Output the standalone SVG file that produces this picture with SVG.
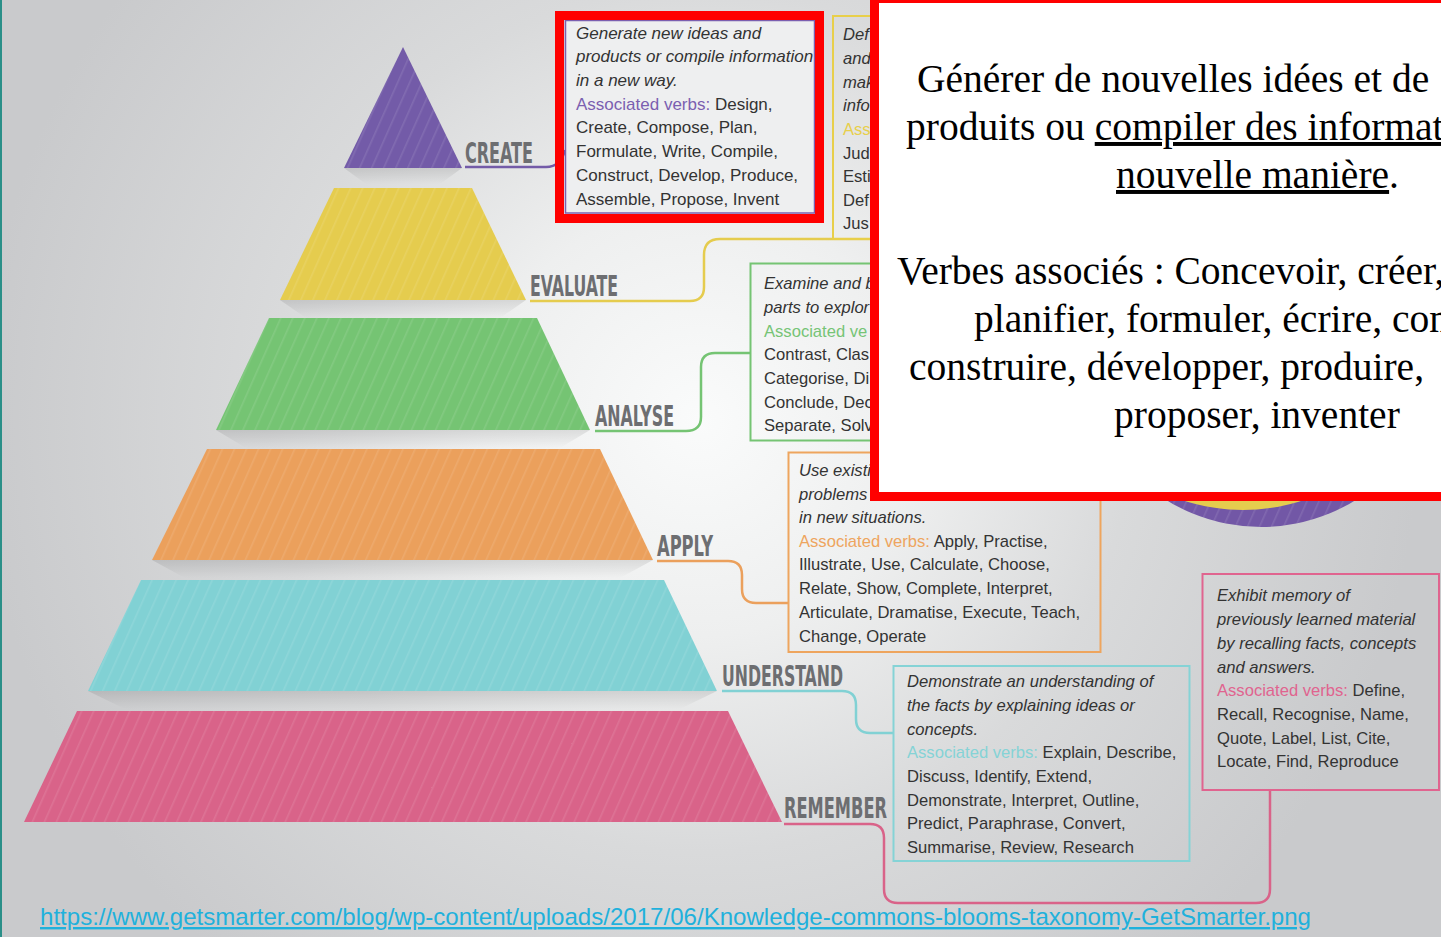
<svg xmlns="http://www.w3.org/2000/svg" width="1441" height="937" viewBox="0 0 1441 937">
<defs>
<radialGradient id="bg" gradientUnits="userSpaceOnUse" cx="700" cy="420" r="720">
<stop offset="0" stop-color="#fafbfb"/>
<stop offset="0.3" stop-color="#eeefef"/>
<stop offset="0.6" stop-color="#d9dadb"/>
<stop offset="1" stop-color="#c9cacc"/>
</radialGradient>
<linearGradient id="sh" x1="0" y1="0" x2="0" y2="1">
<stop offset="0" stop-color="#000" stop-opacity="0.10"/>
<stop offset="1" stop-color="#000" stop-opacity="0"/>
</linearGradient>
<pattern id="stripes" width="11" height="11" patternUnits="userSpaceOnUse" patternTransform="rotate(24)">
<rect width="1.6" height="11" fill="#ffffff" fill-opacity="0.10"/>
</pattern>
<style>
.lbl{font-family:"DejaVu Sans Condensed","DejaVu Sans",sans-serif;font-weight:bold;font-size:28px;fill:#6d6e71}
.t{font-family:"Liberation Sans",Arial,sans-serif;font-size:16.6px;fill:#333333}
.it{font-style:italic}
.box{fill:none;stroke-width:2}
.con{fill:none;stroke-width:2.5}
.fr{font-family:"Liberation Serif","Times New Roman",serif;font-size:39.5px;fill:#000}
.ul{text-decoration:underline}
</style>
</defs>

<rect width="1441" height="937" fill="url(#bg)"/>
<rect x="0" y="0" width="2" height="937" fill="#2a8f88"/>

<g id="pyramid-create">
<polygon points="344,168 462,168 440,184 366,184" fill="url(#sh)"/>
<polygon points="403,47 462,168 344,168" fill="#735ba8"/>
<polygon points="403,47 462,168 344,168" fill="url(#stripes)"/>
<text class="lbl" x="465" y="163" textLength="68" lengthAdjust="spacingAndGlyphs">CREATE</text>
</g>
<g id="pyramid-evaluate">
<polygon points="280,300 526,300 500,318 306,318" fill="url(#sh)"/>
<polygon points="334,188 472,188 526,300 280,300" fill="#e5cc4e"/>
<polygon points="334,188 472,188 526,300 280,300" fill="url(#stripes)"/>
<text class="lbl" x="530" y="296" textLength="88" lengthAdjust="spacingAndGlyphs">EVALUATE</text>
</g>
<g id="pyramid-analyse">
<polygon points="216,430 590,430 560,448 246,448" fill="url(#sh)"/>
<polygon points="269,318 537,318 590,430 216,430" fill="#75c473"/>
<polygon points="269,318 537,318 590,430 216,430" fill="url(#stripes)"/>
<text class="lbl" x="595" y="426" textLength="79" lengthAdjust="spacingAndGlyphs">ANALYSE</text>
</g>
<g id="pyramid-apply">
<polygon points="152,560 653,560 620,578 185,578" fill="url(#sh)"/>
<polygon points="207,449 600,449 653,560 152,560" fill="#eba05c"/>
<polygon points="207,449 600,449 653,560 152,560" fill="url(#stripes)"/>
<text class="lbl" x="657" y="556" textLength="56" lengthAdjust="spacingAndGlyphs">APPLY</text>
</g>
<g id="pyramid-understand">
<polygon points="88,691 717,691 680,709 125,709" fill="url(#sh)"/>
<polygon points="141,580 664,580 717,691 88,691" fill="#81d1d4"/>
<polygon points="141,580 664,580 717,691 88,691" fill="url(#stripes)"/>
<text class="lbl" x="722" y="686" textLength="121" lengthAdjust="spacingAndGlyphs">UNDERSTAND</text>
</g>
<g id="pyramid-remember">
<polygon points="77,711 728,711 782,822 24,822" fill="#d96389"/>
<polygon points="77,711 728,711 782,822 24,822" fill="url(#stripes)"/>
<text class="lbl" x="784" y="818" textLength="103" lengthAdjust="spacingAndGlyphs">REMEMBER</text>
</g>

<g id="connectors">
<path class="con" d="M 465 167 H 546 Q 561 167 565 150" stroke="#735ba8"/>
<path class="con" d="M 530 301 H 690 Q 704 301 704 287 V 255 Q 704 239 720 239 H 880" stroke="#e5cc4e"/>
<path class="con" d="M 595 431 H 686 Q 701 431 701 417 V 367 Q 701 353 715 353 H 751" stroke="#75c473"/>
<path class="con" d="M 657 561 H 728 Q 742 561 742 575 V 589 Q 742 603 756 603 H 789" stroke="#eba05c"/>
<path class="con" d="M 722 691 H 842 Q 856 691 856 705 V 719 Q 856 733 870 733 H 894" stroke="#81d1d4"/>
<path class="con" d="M 784 824 H 870 Q 884 824 884 838 V 889 Q 884 903 898 903 H 1256 Q 1270 903 1270 889 V 791" stroke="#d96389"/>
</g>

<g id="box-evaluate">
<rect class="box" x="833" y="16" width="200" height="223" stroke="#e8cf4a" stroke-width="1.5"/>
<text class="t it" x="843" y="40">Def</text>
<text class="t it" x="843" y="64">and</text>
<text class="t it" x="843" y="88">mak</text>
<text class="t it" x="843" y="111">info</text>
<text class="t" x="843" y="135" style="fill:#e8cf4a">Ass</text>
<text class="t" x="843" y="159">Jud</text>
<text class="t" x="843" y="182">Esti</text>
<text class="t" x="843" y="206">Def</text>
<text class="t" x="843" y="229">Jus</text>
</g>

<g id="box-analyse">
<rect class="box" x="750.5" y="263.5" width="300" height="177" stroke="#75c473"/>
<text class="t it" x="764" y="289">Examine and b</text>
<text class="t it" x="764" y="313">parts to explor</text>
<text class="t" x="764" y="337" style="fill:#76c476">Associated ve</text>
<text class="t" x="764" y="360">Contrast, Clas</text>
<text class="t" x="764" y="384">Categorise, Di</text>
<text class="t" x="764" y="408">Conclude, Dec</text>
<text class="t" x="764" y="431">Separate, Solv</text>
</g>

<g id="box-apply">
<rect class="box" x="788.5" y="452.5" width="312" height="199.5" stroke="#eea55e"/>
<text class="t it" x="799" y="476">Use existi</text>
<text class="t it" x="799" y="500">problems</text>
<text class="t it" x="799" y="523">in new situations.</text>
<text class="t" x="799" y="547"><tspan style="fill:#eea55e">Associated verbs:</tspan> Apply, Practise,</text>
<text class="t" x="799" y="570">Illustrate, Use, Calculate, Choose,</text>
<text class="t" x="799" y="594">Relate, Show, Complete, Interpret,</text>
<text class="t" x="799" y="618">Articulate, Dramatise, Execute, Teach,</text>
<text class="t" x="799" y="642">Change, Operate</text>
</g>

<g id="box-understand">
<rect class="box" x="893.5" y="666" width="296" height="195" stroke="#85d3d6"/>
<text class="t it" x="907" y="687">Demonstrate an understanding of</text>
<text class="t it" x="907" y="711">the facts by explaining ideas or</text>
<text class="t it" x="907" y="735">concepts.</text>
<text class="t" x="907" y="758"><tspan style="fill:#85d3d6">Associated verbs:</tspan> Explain, Describe,</text>
<text class="t" x="907" y="782">Discuss, Identify, Extend,</text>
<text class="t" x="907" y="806">Demonstrate, Interpret, Outline,</text>
<text class="t" x="907" y="829">Predict, Paraphrase, Convert,</text>
<text class="t" x="907" y="853">Summarise, Review, Research</text>
</g>

<g id="box-remember">
<rect class="box" x="1202.5" y="574" width="236.5" height="216" stroke="#e0648f"/>
<text class="t it" x="1217" y="601">Exhibit memory of</text>
<text class="t it" x="1217" y="625">previously learned material</text>
<text class="t it" x="1217" y="649">by recalling facts, concepts</text>
<text class="t it" x="1217" y="673">and answers.</text>
<text class="t" x="1217" y="696"><tspan style="fill:#e0648f">Associated verbs:</tspan> Define,</text>
<text class="t" x="1217" y="720">Recall, Recognise, Name,</text>
<text class="t" x="1217" y="744">Quote, Label, List, Cite,</text>
<text class="t" x="1217" y="767">Locate, Find, Reproduce</text>
</g>

<g id="box-create">
<rect x="565.5" y="20.5" width="249" height="192.5" fill="#eeeff0" stroke="#7b5fb0" stroke-width="1.5"/>
<text class="t it" x="576" y="39" style="font-size:17px">Generate new ideas and</text>
<text class="t it" x="576" y="62" style="font-size:17px">products or compile information</text>
<text class="t it" x="576" y="86" style="font-size:17px">in a new way.</text>
<text class="t" x="576" y="110" style="font-size:17px"><tspan style="fill:#7b5fb0">Associated verbs:</tspan> Design,</text>
<text class="t" x="576" y="133" style="font-size:17px">Create, Compose, Plan,</text>
<text class="t" x="576" y="157" style="font-size:17px">Formulate, Write, Compile,</text>
<text class="t" x="576" y="181" style="font-size:17px">Construct, Develop, Produce,</text>
<text class="t" x="576" y="205" style="font-size:17px">Assemble, Propose, Invent</text>
<rect x="559.5" y="15.5" width="260" height="203" fill="none" stroke="#ff0000" stroke-width="9"/>
</g>

<g id="circle">
<circle cx="1261" cy="347" r="180" fill="#7257a6"/>
<circle cx="1261" cy="347" r="180" fill="url(#stripes)"/>
<circle cx="1243" cy="317" r="193" fill="#e5cc4e"/>
</g>

<g id="overlay-translation">
<rect x="874.5" y="-1.5" width="600" height="498" fill="#ffffff" stroke="#ff0000" stroke-width="9"/>
<text class="fr" x="917" y="92">Générer de nouvelles idées et de</text>
<text class="fr" x="906" y="140">produits ou <tspan class="ul">compiler des informat</tspan></text>
<text class="fr" x="1116" y="188"><tspan class="ul">nouvelle manière</tspan>.</text>
<text class="fr" x="897" y="284">Verbes associés : Concevoir, créer,</text>
<text class="fr" x="974" y="332">planifier, formuler, écrire, com</text>
<text class="fr" x="909" y="380">construire, développer, produire,</text>
<text class="fr" x="1114" y="428">proposer, inventer</text>
</g>

<g id="source-link">
<text x="40" y="925" font-family="Liberation Sans, Arial, sans-serif" font-size="24" fill="#1fb1dc" text-decoration="underline" textLength="1271" lengthAdjust="spacingAndGlyphs">https://www.getsmarter.com/blog/wp-content/uploads/2017/06/Knowledge-commons-blooms-taxonomy-GetSmarter.png</text>
</g>
</svg>
